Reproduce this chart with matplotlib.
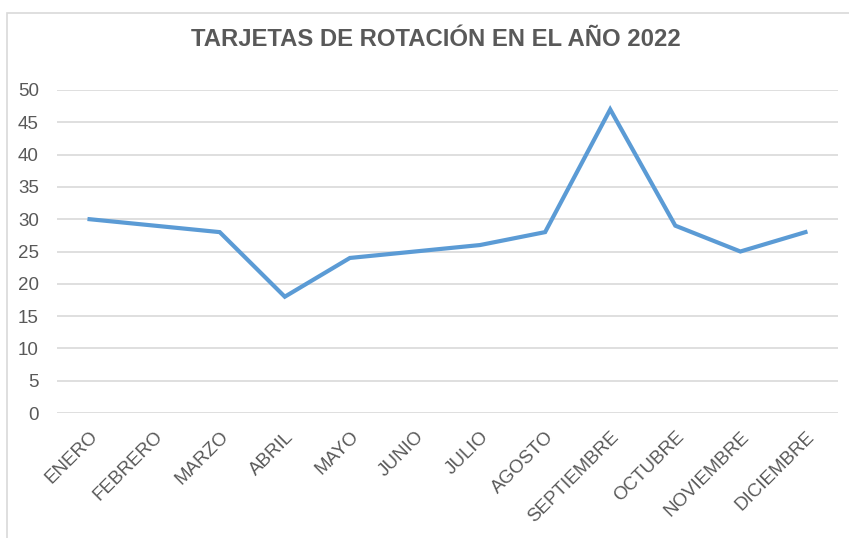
import matplotlib.pyplot as plt
from matplotlib.patches import Rectangle

# Datos del gráfico
meses = ['ENERO', 'FEBRERO', 'MARZO', 'ABRIL', 'MAYO', 'JUNIO', 'JULIO',
         'AGOSTO', 'SEPTIEMBRE', 'OCTUBRE', 'NOVIEMBRE', 'DICIEMBRE']
tarjetas = [30, 29, 28, 18, 24, 25, 26, 28, 47, 29, 25, 28]
y_ticks = [0, 5, 10, 15, 20, 25, 30, 35, 40, 45, 50]

plt.rcParams['font.family'] = ['Liberation Sans', 'DejaVu Sans']
gris = '#595959'

fig = plt.figure(figsize=(8.49, 5.38), dpi=100)
ax = fig.add_axes([57 / 849, 1 - 413 / 538, 781 / 849, 323 / 538])

# Marco del gráfico
fig.patches.append(Rectangle((7 / 849, -0.1), 1.1, 1 - 13 / 538 + 0.1,
                             transform=fig.transFigure, fill=False,
                             edgecolor='#D9D9D9', linewidth=1.2))

x = range(len(meses))
ax.plot(x, tarjetas, color='#5B9BD5', linewidth=3.0, solid_joinstyle='miter')

ax.set_xlim(-0.5, len(meses) - 0.5)
ax.set_ylim(0, 50)
ax.set_yticks(y_ticks)
ax.yaxis.grid(True, color='#D9D9D9', linewidth=1.2)
ax.set_axisbelow(True)
for s in ax.spines.values():
    s.set_visible(False)

ax.set_xticks(list(x))
ax.set_xticklabels(meses, rotation=45, ha='right', va='top',
                   rotation_mode='anchor')
ax.tick_params(axis='both', length=0, colors=gris, labelsize=13.5)
ax.tick_params(axis='y', pad=13)
ax.tick_params(axis='x', pad=11)

fig.text(436 / 849, 1 - 40 / 538, 'TARJETAS DE ROTACIÓN EN EL AÑO 2022',
         ha='center', va='center', fontsize=17.2, fontweight='bold', color=gris)

fig.savefig('out.png', dpi=100)
